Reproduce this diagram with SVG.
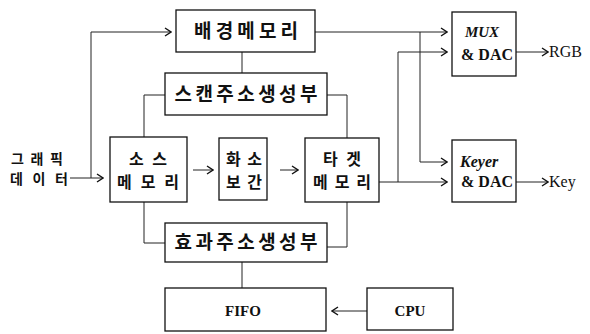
<svg xmlns="http://www.w3.org/2000/svg" width="590" height="334" viewBox="0 0 590 334">
<defs>
<marker id="chev" viewBox="0 0 8 10" refX="7" refY="5" markerWidth="8" markerHeight="10" markerUnits="userSpaceOnUse" orient="auto">
<path d="M1,1 L7,5 L1,9" fill="none" stroke="#111" stroke-width="1.4"/>
</marker>
</defs>
<style>
.box{fill:#fff;stroke:#111;stroke-width:1.3}
.ln{fill:none;stroke:#222;stroke-width:1}
.ar{fill:none;stroke:#222;stroke-width:1;marker-end:url(#chev)}
.kr{font-family:"Noto Sans CJK KR","Noto Sans",sans-serif;font-size:19px;font-weight:bold;fill:#111;text-anchor:middle}
.kr2{font-family:"Noto Sans CJK KR","Noto Sans",sans-serif;font-size:16px;font-weight:bold;fill:#111;text-anchor:middle}
.krl{font-family:"Noto Sans CJK KR","Noto Sans",sans-serif;font-size:14px;font-weight:bold;fill:#111}
.en{font-family:"Liberation Serif",serif;font-size:15px;fill:#111;text-anchor:middle}
.enl{font-family:"Liberation Serif",serif;font-size:16px;fill:#111}
</style>
<rect width="590" height="334" fill="#fff"/>
<g id="connectors">
<polyline class="ln" points="70,178 91,178 91,32"/>
<line class="ar" x1="91" y1="178" x2="103" y2="178"/>
<line class="ar" x1="91" y1="32" x2="171" y2="32"/>
<line class="ln" x1="242" y1="52" x2="242" y2="73"/>
<polyline class="ln" points="165,95 144,95 144,137"/>
<polyline class="ln" points="327,95 347,95 347,138"/>
<line class="ar" x1="193" y1="170" x2="213" y2="170"/>
<line class="ar" x1="280" y1="170" x2="298" y2="170"/>
<polyline class="ln" points="144,202 144,243 165,243"/>
<polyline class="ln" points="347,202 347,247 327,247"/>
<line class="ln" x1="242" y1="262" x2="242" y2="288"/>
<line class="ar" x1="367" y1="311" x2="332" y2="311"/>
<line class="ar" x1="315" y1="32" x2="447" y2="32"/>
<polyline class="ar" points="420,32 420,162 447,162"/>
<line class="ar" x1="379" y1="182" x2="447" y2="182"/>
<polyline class="ar" points="398,182 398,52 447,52"/>
<line class="ar" x1="516" y1="52" x2="548" y2="52"/>
<line class="ar" x1="516" y1="182" x2="548" y2="182"/>
</g>
<g id="graphic-data">
<text class="krl" x="11" y="164" textLength="52" lengthAdjust="spacing">그래픽</text>
<text class="krl" x="10" y="184" textLength="58" lengthAdjust="spacing">데이터</text>
</g>
<g id="bg-memory">
<rect class="box" x="176" y="10" width="139" height="42"/>
<text class="kr" x="246" y="38" textLength="104" lengthAdjust="spacing">배경메모리</text>
</g>
<g id="scan-addr">
<rect class="box" x="165" y="73" width="162" height="42"/>
<text class="kr" x="246" y="101" textLength="143" lengthAdjust="spacing">스캔주소생성부</text>
</g>
<g id="source-memory">
<rect class="box" x="110" y="137" width="77" height="65"/>
<text class="kr2" x="148" y="165" textLength="38" lengthAdjust="spacing">소스</text>
<text class="kr2" x="148" y="188" textLength="62" lengthAdjust="spacing">메모리</text>
</g>
<g id="interp">
<rect class="box" x="219" y="138" width="48" height="62"/>
<text class="kr2" x="244" y="165" textLength="36" lengthAdjust="spacing">화소</text>
<text class="kr2" x="244" y="188" textLength="36" lengthAdjust="spacing">보간</text>
</g>
<g id="target-memory">
<rect class="box" x="305" y="138" width="74" height="64"/>
<text class="kr2" x="342" y="165" textLength="38" lengthAdjust="spacing">타겟</text>
<text class="kr2" x="342" y="188" textLength="58" lengthAdjust="spacing">메모리</text>
</g>
<g id="effect-addr">
<rect class="box" x="165" y="223" width="162" height="39"/>
<text class="kr" x="246" y="249" textLength="143" lengthAdjust="spacing">효과주소생성부</text>
</g>
<g id="fifo">
<rect class="box" x="165" y="288" width="161" height="43"/>
<text class="en" x="243" y="316" font-weight="bold">FIFO</text>
</g>
<g id="cpu">
<rect class="box" x="367" y="288" width="86" height="42"/>
<text class="en" x="410" y="316" font-weight="bold">CPU</text>
</g>
<g id="mux-dac">
<rect class="box" x="452" y="12" width="64" height="64"/>
<text class="en" x="482" y="37" font-style="italic" font-weight="bold">MUX</text>
<text class="enl" x="461" y="60" font-family="Liberation Mono" font-weight="bold">&amp; DAC</text>
</g>
<g id="keyer-dac">
<rect class="box" x="452" y="140" width="64" height="62"/>
<text class="enl" x="460" y="167" font-style="italic" font-family="Liberation Mono" font-weight="bold" font-size="15">Keyer</text>
<text class="enl" x="461" y="187" font-family="Liberation Mono" font-weight="bold">&amp; DAC</text>
</g>
<g id="outputs">
<text class="enl" x="549" y="57">RGB</text>
<text class="enl" x="549" y="187">Key</text>
</g>
</svg>
